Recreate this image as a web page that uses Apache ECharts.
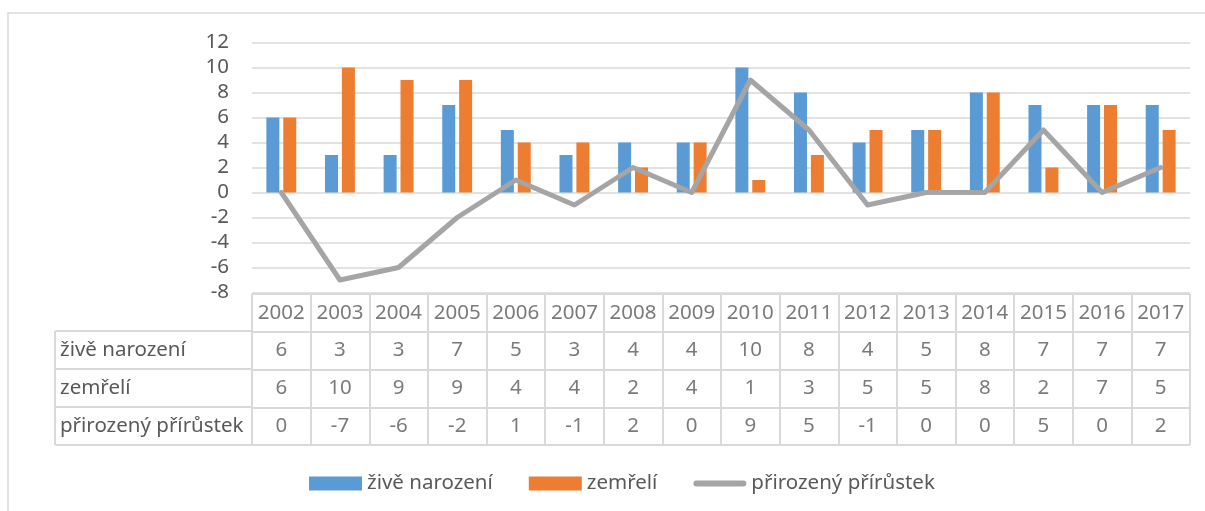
<!DOCTYPE html>
<html lang="cs">
<head>
    <meta charset="UTF-8">
    <title>Přirozený přírůstek</title>
    <style>
        html,body{
            padding: 0;margin: 0;background: #fff;
        }
        #chart{
            width: 1205px;height: 511px;
        }
    </style>
    <script src="https://cdn.jsdelivr.net/npm/echarts@6/dist/echarts.min.js"></script>
</head>
<body>
<div id="chart"></div>
<script>
    var years = ['2002','2003','2004','2005','2006','2007','2008','2009','2010','2011','2012','2013','2014','2015','2016','2017'];
    var born = [6,3,3,7,5,3,4,4,10,8,4,5,8,7,7,7];
    var died = [6,10,9,9,4,4,2,4,1,3,5,5,8,2,7,5];
    var growth = [0,-7,-6,-2,1,-1,2,0,9,5,-1,0,0,5,0,2];
    var names = ['živě narození','zemřelí','přirozený přírůstek'];
    var yTicks = {min: -8, max: 12, step: 2};

    var font = '"Noto Sans", sans-serif';
    var txt = '#595959';
    var gridCol = '#d9d9d9';
    var fs = 20.5;

    // text cells of the data table
    var cells = [];
    years.forEach(function(y, i){
        cells.push([i, 0, y]);
        cells.push([i, 1, String(born[i])]);
        cells.push([i, 2, String(died[i])]);
        cells.push([i, 3, String(growth[i])]);
    });

    var myChart = echarts.init(document.getElementById('chart'));
    var option = {
        animation: false,
        backgroundColor: '#fff',
        textStyle: {fontFamily: font},
        graphic: [{
            type: 'rect',
            shape: {x: 8, y: 13, width: 1210, height: 520},
            style: {fill: 'none', stroke: gridCol, lineWidth: 1.5},
            silent: true
        }],
        legend: {
            left: 304,
            top: 468,
            itemWidth: 53,
            itemHeight: 14,
            itemGap: 36,
            textStyle: {color: txt, fontSize: fs, fontFamily: font, padding: [0, 0, 0, 0]},
            data: [
                {name: names[0], icon: 'rect'},
                {name: names[1], icon: 'rect'},
                {name: names[2], icon: 'path://M3,0 L50,0 A3,3 0 0 1 50,6 L3,6 A3,3 0 0 1 3,0 Z', itemStyle: {color: '#a5a5a5'}}
            ]
        },
        grid: [
            {left: 252, right: 15, top: 42.5, height: 250},
            {left: 252, right: 15, top: 294, height: 151},
            {left: 55, top: 331, width: 197, height: 114}
        ],
        xAxis: [{
            gridIndex: 0,
            type: 'category',
            data: years,
            show: false
        }, {
            gridIndex: 1,
            type: 'category',
            data: years,
            axisLine: {show: false},
            axisTick: {show: false},
            axisLabel: {show: false},
            splitLine: {show: true, lineStyle: {color: gridCol, width: 2}}
        }, {
            gridIndex: 2,
            type: 'category',
            data: [''],
            axisLine: {show: false},
            axisTick: {show: false},
            axisLabel: {show: false},
            splitLine: {show: true, lineStyle: {color: gridCol, width: 2}}
        }],
        yAxis: [{
            gridIndex: 0,
            type: 'value',
            min: yTicks.min,
            max: yTicks.max,
            interval: yTicks.step,
            axisLine: {show: false},
            axisTick: {show: false},
            axisLabel: {color: txt, fontSize: fs, fontFamily: font, margin: 23},
            splitLine: {lineStyle: {color: gridCol, width: 1.5}}
        }, {
            gridIndex: 1,
            type: 'category',
            inverse: true,
            data: [''].concat(names),
            axisLine: {show: false},
            axisTick: {show: false},
            axisLabel: {color: txt, fontSize: fs, fontFamily: font, align: 'left', margin: 192},
            splitLine: {show: true, lineStyle: {color: gridCol, width: 2}}
        }, {
            gridIndex: 2,
            type: 'category',
            data: ['a','b','c'],
            axisLine: {show: false},
            axisTick: {show: false},
            axisLabel: {show: false},
            splitLine: {show: true, lineStyle: {color: gridCol, width: 2}}
        }],
        series: [{
            name: names[0],
            type: 'bar',
            data: born,
            barWidth: 13,
            barGap: '30%',
            itemStyle: {color: '#5b9bd5'}
        }, {
            name: names[1],
            type: 'bar',
            data: died,
            barWidth: 13,
            itemStyle: {color: '#ed7d31'}
        }, {
            name: names[2],
            type: 'line',
            data: growth,
            symbol: 'none',
            lineStyle: {color: '#a5a5a5', width: 5, join: 'round', cap: 'round'},
            itemStyle: {color: '#a5a5a5'}
        }, {
            type: 'scatter',
            xAxisIndex: 1,
            yAxisIndex: 1,
            data: cells,
            symbolSize: 1,
            silent: true,
            itemStyle: {color: 'rgba(0,0,0,0)'},
            label: {
                show: true,
                position: 'inside',
                color: txt,
                fontSize: fs,
                fontFamily: font,
                formatter: function(p){ return p.value[2]; }
            }
        }]
    };
    myChart.setOption(option);
</script>
</body>
</html>
